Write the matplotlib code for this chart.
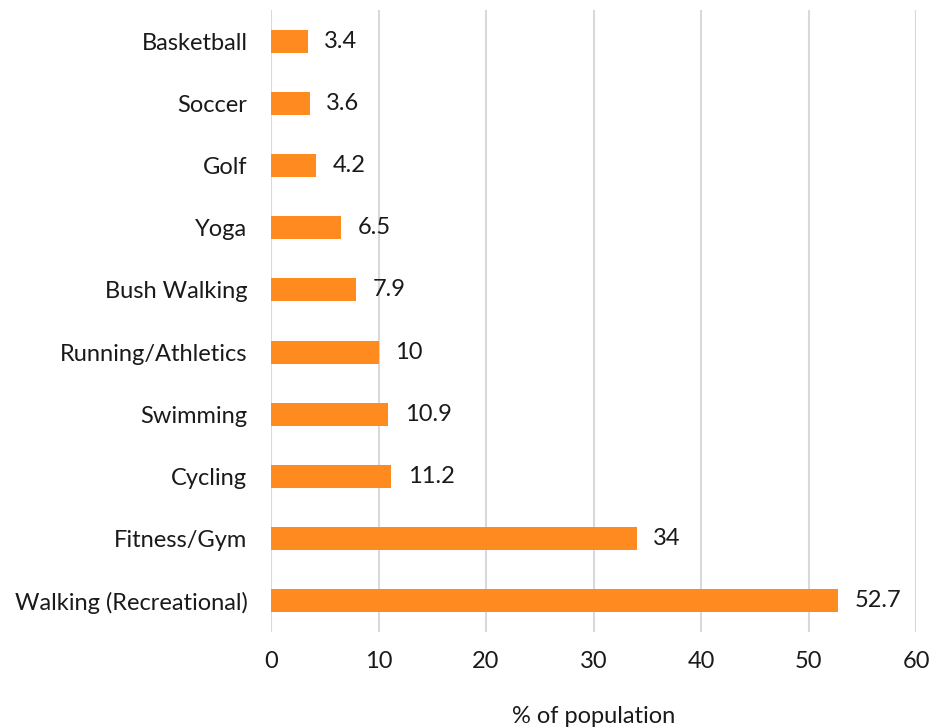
import matplotlib.pyplot as plt

# participation by activity, bottom to top
activities = ['Walking (Recreational)', 'Fitness/Gym', 'Cycling', 'Swimming',
              'Running/Athletics', 'Bush Walking', 'Yoga', 'Golf', 'Soccer', 'Basketball']
percent = [52.7, 34, 11.2, 10.9, 10, 7.9, 6.5, 4.2, 3.6, 3.4]
value_labels = ['52.7', '34', '11.2', '10.9', '10', '7.9', '6.5', '4.2', '3.6', '3.4']
x_ticks = [0, 10, 20, 30, 40, 50, 60]

plt.rcParams['font.family'] = ['Lato', 'DejaVu Sans']
FS = 17

fig = plt.figure(figsize=(9.3, 7.28), dpi=100)
ax = fig.add_axes([0.2914, 0.1319, 0.6936, 0.8544])

ypos = list(range(len(activities)))
ax.barh(ypos, percent, height=0.37, color='#FF8A1F', zorder=3)
for y, v, lab in zip(ypos, percent, value_labels):
    ax.annotate(lab, (v, y), xytext=(12, 0), textcoords='offset points',
                va='center', ha='left', fontsize=FS, color='#1a1a1a')

ax.set_xlim(0, 60)
ax.set_ylim(-0.5, len(activities) - 0.5)
ax.set_xticks(x_ticks)
ax.set_yticks(ypos)
ax.set_yticklabels(activities)
ax.tick_params(axis='both', length=0, labelsize=FS, labelcolor='#1a1a1a')
ax.tick_params(axis='y', pad=17)
ax.tick_params(axis='x', pad=14)
ax.grid(axis='x', color='#D9D9D9', linewidth=1.5, zorder=0)
for s in ax.spines.values():
    s.set_visible(False)
ax.set_xlabel('% of population', fontsize=FS, color='#1a1a1a', labelpad=24)

fig.savefig('out.png', dpi=100)
